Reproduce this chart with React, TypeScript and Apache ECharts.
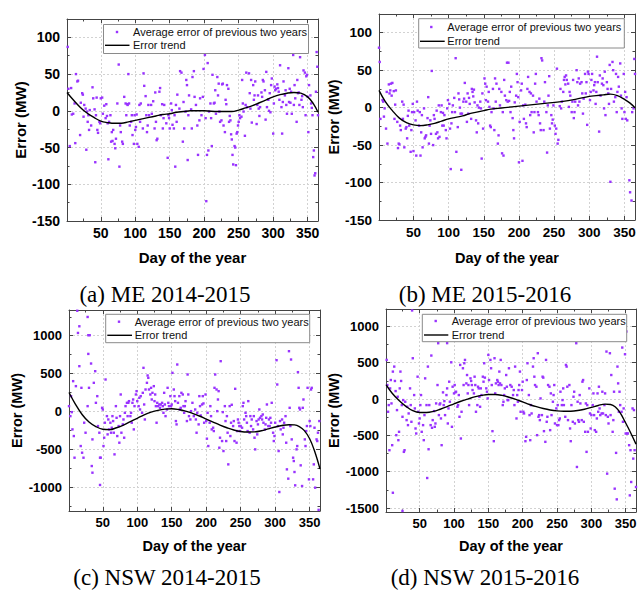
import React, { useEffect, useRef } from "react";
import * as echarts from "echarts";

// ---------------- data (day of year, error in MW) ----------------
const meScatter1415: number[][] = [
[2,87],[3,30],[5,-48],[7,31],[8,-5],[10,-4],[12,10],[13,-44],[14,50],[16,40],[17,41],[20,-33],[21,11],[23,24],[24,22],[25,-8],[26,8],[28,3],[29,-53],[30,-1],[31,-15],[32,-6],[33,-26],[34,1],[36,-20],[38,32],[39,17],[41,2],[42,-70],[43,-6],[44,18],[45,-26],[46,-30],[48,-15],[49,-17],[50,17],[52,18],[53,-4],[55,7],[57,-10],[58,9],[59,-7],[60,-17],[61,-66],[62,-15],[64,-6],[65,-42],[66,-29],[67,-41],[68,-26],[70,-45],[71,-51],[72,-38],[74,10],[76,63],[77,-76],[78,-20],[79,-29],[81,-42],[82,-45],[84,19],[86,10],[87,-6],[88,9],[89,8],[90,50],[91,10],[92,-20],[94,-15],[95,-6],[96,-33],[98,-45],[99,-6],[100,-26],[101,-22],[102,-5],[103,-45],[105,-49],[106,8],[107,-15],[108,10],[111,-24],[112,51],[113,34],[115,20],[116,-6],[117,-29],[118,-20],[119,8],[120,-6],[123,8],[124,-4],[126,13],[128,-24],[129,25],[130,-15],[131,-40],[132,-38],[135,26],[136,31],[137,-6],[139,9],[140,-24],[141,-10],[142,8],[145,-17],[147,-64],[148,-6],[149,-10],[150,-24],[152,10],[153,1],[154,-19],[156,-24],[157,-6],[158,-76],[159,8],[160,-15],[161,22],[164,3],[165,54],[167,52],[169,-42],[170,12],[171,-24],[173,-1],[174,42],[175,35],[176,-67],[177,-6],[178,21],[181,2],[182,-24],[183,46],
[185,54],[186,19],[188,8],[190,-20],[191,-60],[193,-13],[194,17],[196,-6],[198,19],[199,57],[201,76],[202,-10],[203,-123],[204,-60],[205,65],[206,-54],[207,-1],[209,10],[210,-10],[211,-48],[212,49],[214,10],[215,11],[216,28],[217,-4],[219,46],[220,21],[221,37],[222,-1],[223,-15],[225,-13],[226,36],[227,37],[228,-20],[230,-29],[231,15],[232,9],[233,35],[235,30],[236,-15],[237,-7],[238,-13],[239,-32],[240,-39],[241,-60],[242,-73],[244,-48],[245,-50],[246,-74],[247,-31],[248,-29],[249,-20],[250,-15],[251,-6],[252,-10],[254,-8],[255,42],[256,10],[257,-1],[259,-34],[260,8],[261,52],[262,5],[265,51],[266,24],[267,3],[268,42],[269,-16],[271,35],[272,15],[273,21],[274,40],[276,-18],[277,8],[278,21],[279,3],[280,-7],[281,5],[283,25],[284,19],[285,42],[286,40],[288,28],[289,-12],[290,53],[291,5],[293,15],[294,0],[295,24],[296,-2],[297,35],[298,44],[300,-31],[301,10],[302,33],[303,28],[304,30],[306,36],[307,31],[308,26],[309,15],[310,62],[312,5],[313,-31],[314,12],[315,40],[317,21],[318,28],[319,8],[320,-4],[322,58],[323,12],[324,30],[325,11],[326,26],[327,-4],[329,76],[330,8],[331,35],[332,17],[334,-15],[335,42],[336,24],[337,25],[338,8],[339,73],[341,15],[342,20],[343,5],[344,55],[346,52],[347,-6],[348,47],[349,49],[350,19],[351,-29],[352,35],[354,21],[355,10],[356,4],[357,-6],[358,-63],[359,-54],[360,-88],[361,-85],[362,26],[363,80],[364,60],[365,-6]
];
const meTrend1415: number[][] = [
[1,25],[10,15],[20,5],[30,-3],[40,-9],[50,-14],[60,-16],[70,-17],[80,-17],[90,-15],[100,-13],[110,-11],[120,-9],[130,-7],[140,-5],[150,-4],[160,-2],[170,-1],[180,0],[200,0],[220,-1],[240,-1],[250,1],[260,4],[270,7],[280,11],[290,15],[300,19],[310,22],[320,24],[330,25],[340,24],[350,19],[358,10],[365,-2]
];

const meScatter1516: number[][] = [
[1,80],[2,61],[3,-15],[6,10],[7,8],[8,-12],[9,-1],[11,-28],[12,21],[13,-48],[15,31],[16,19],[17,23],[18,32],[19,16],[20,33],[22,22],[23,-15],[24,4],[25,23],[27,-19],[28,-54],[29,-48],[30,-49],[31,-24],[32,-30],[34,8],[35,-15],[36,4],[37,-53],[39,-28],[40,-26],[41,-41],[42,-11],[43,-4],[44,-24],[46,-59],[47,-30],[48,-6],[49,5],[50,-58],[51,-6],[53,-17],[54,-64],[55,8],[56,-4],[58,-24],[59,-6],[60,-64],[61,-33],[62,-10],[63,-53],[65,-1],[66,-41],[67,-39],[68,-37],[70,-14],[71,14],[72,-48],[73,-24],[74,-17],[75,-35],[76,49],[78,-50],[79,-10],[80,-15],[82,-35],[83,-4],[84,-33],[85,-41],[86,3],[87,-39],[89,-6],[90,3],[91,-24],[92,-7],[93,-24],[94,-10],[96,-30],[97,-41],[98,-1],[99,10],[101,5],[102,-28],[103,-82],[104,-21],[105,-6],[106,3],[108,13],[109,-6],[110,66],[111,-59],[113,-26],[114,19],[115,11],[116,0],[117,-8],[118,-83],[119,-8],[121,8],[122,12],[123,33],[125,8],[126,-19],[127,19],[128,-8],[129,13],[130,5],[132,-15],[133,25],[134,21],[135,15],[136,24],[137,7],[139,-17],[140,-33],[141,3],[142,-21],[143,0],[145,8],[146,-1],[147,-68],[148,19],[149,-28],[151,39],[152,32],[153,10],[154,28],[156,8],[157,21],[158,1],[159,-24],[160,-26],[161,-6],[163,25],[164,-1],[165,-30],[166,39],[167,8],[168,32],[170,-48],[171,-37],[172,25],[173,3],[175,21],[176,-61],[177,-6],[178,-64],[179,37],[180,16],[182,10],[183,60],[184,8],
[185,60],[186,9],[187,21],[188,-6],[189,28],[191,-14],[192,-30],[193,-41],[194,7],[196,16],[197,45],[198,34],[199,14],[200,-73],[201,-19],[203,23],[204,32],[205,-71],[206,3],[207,-15],[209,4],[210,-21],[211,-26],[212,25],[213,41],[215,21],[216,-10],[217,19],[218,-6],[220,16],[221,-33],[222,-6],[223,32],[224,45],[225,8],[227,-6],[228,-10],[229,12],[230,-21],[231,-30],[232,66],[233,63],[235,-30],[236,8],[237,34],[239,-6],[240,-60],[241,3],[242,16],[243,42],[244,-28],[246,-10],[247,-21],[248,-16],[249,3],[251,-24],[252,-35],[253,-28],[254,52],[255,-48],[256,-43],[258,2],[259,25],[260,-1],[261,8],[263,21],[264,37],[265,41],[266,31],[267,43],[268,37],[270,32],[271,1],[272,21],[273,16],[275,-6],[276,8],[277,37],[278,-14],[279,-6],[280,8],[282,50],[283,34],[284,3],[285,39],[286,8],[287,32],[289,34],[290,19],[291,-8],[292,12],[294,45],[295,19],[296,34],[297,-23],[298,48],[299,45],[301,10],[302,21],[303,37],[304,45],[306,23],[307,30],[308,34],[309,5],[310,21],[311,68],[312,34],[314,-32],[315,43],[316,16],[318,32],[319,39],[320,30],[321,-1],[322,48],[323,-10],[325,34],[326,25],[327,19],[328,5],[329,57],[330,-99],[331,25],[333,61],[334,50],[335,8],[337,14],[338,45],[339,-6],[340,21],[341,41],[342,28],[344,59],[345,16],[346,-1],[347,-15],[349,45],[350,-6],[351,21],[352,-15],[353,14],[354,-17],[357,-97],[358,-113],[360,-124],[361,-6],[363,-1],[364,65],[365,45]
];
const meTrend1516: number[][] = [
[1,23],[10,8],[20,-4],[30,-14],[40,-20],[50,-23],[60,-24],[70,-23],[80,-21],[90,-18],[100,-15],[110,-13],[120,-11],[130,-8],[140,-6],[150,-4],[160,-2],[170,-1],[180,0],[200,2],[220,4],[240,6],[260,8],[280,11],[300,15],[310,16],[320,17],[330,18],[340,16],[350,11],[358,6],[365,0]
];

const nswScatter1415: number[][] = [
[1,70],[3,-62],[4,202],[5,-9],[6,-237],[7,400],[8,-325],[9,-611],[11,334],[13,1330],[14,1037],[16,1125],[16,598],[18,-457],[19,312],[20,-545],[22,-611],[23,-149],[25,-281],[28,1248],[28,70],[29,1007],[29,760],[30,312],[31,1007],[33,633],[34,-721],[35,-369],[35,-809],[37,378],[39,532],[40,114],[42,202],[43,-193],[45,-281],[46,-611],[46,-971],[47,-611],[49,48],[50,26],[51,-457],[52,-347],[53,-149],[54,422],[56,-62],[57,-303],[58,-106],[59,-237],[61,-149],[62,-281],[63,-215],[64,-62],[65,-127],[66,-281],[67,-567],[69,70],[70,-84],[71,-325],[73,-193],[74,-413],[75,-62],[76,224],[77,-281],[79,-171],[80,-106],[81,-347],[82,-18],[83,70],[85,114],[86,-62],[87,114],[88,136],[90,-62],[91,-18],[92,-149],[93,114],[94,158],[95,-237],[96,70],[98,224],[99,268],[100,136],[102,70],[103,180],[104,26],[105,202],[107,-18],[108,246],[109,576],[110,92],[111,-106],[112,290],[114,378],[115,475],[116,444],[117,290],[119,224],[120,312],[121,158],[122,246],[124,334],[125,136],[126,224],[127,70],[128,-149],[129,114],[130,70],[132,92],[133,48],[134,92],[136,114],[137,70],[138,-18],[139,246],[140,92],[141,-62],[143,26],[144,312],[145,114],[146,70],[148,202],[149,70],[150,92],[151,510],[153,290],[154,202],[155,136],[156,-127],[157,-171],[158,620],[159,114],[161,202],[162,26],[163,48],[164,246],[166,224],[167,70],[168,-18],[169,70],[170,136],[172,-127],[173,488],[174,224],[175,-62],[177,-106],[178,4],[180,114],[182,-62],
[184,26],[185,-106],[186,-281],[187,-18],[189,-171],[190,202],[191,70],[192,-53],[194,92],[195,202],[196,106],[197,-149],[199,224],[200,-127],[201,-360],[202,-18],[203,-457],[205,-149],[206,70],[207,-62],[208,-237],[210,-215],[211,-259],[212,312],[213,488],[215,290],[216,4],[217,158],[218,268],[219,-479],[220,-347],[221,664],[223,-391],[224,-9],[225,-523],[227,70],[228,-127],[229,-391],[230,-62],[231,-281],[232,-699],[234,70],[235,-325],[236,-149],[237,88],[239,-193],[240,-127],[241,-391],[242,299],[244,-413],[245,-259],[246,-106],[247,-149],[248,-193],[249,-259],[250,-193],[252,-215],[253,70],[254,114],[255,-106],[257,-18],[258,-62],[259,-149],[260,-259],[261,136],[263,-281],[264,-62],[265,-193],[266,-106],[268,-237],[269,-62],[270,-347],[271,-501],[273,-127],[274,-303],[275,-171],[276,-106],[277,26],[278,-84],[280,-62],[281,-106],[282,-40],[283,-149],[285,-237],[286,-171],[287,-84],[288,92],[290,-193],[291,-106],[292,-193],[293,-84],[294,-149],[295,114],[297,-281],[298,-391],[299,-325],[300,-149],[302,677],[303,356],[304,-193],[305,-523],[306,-1064],[307,-127],[308,-237],[310,-106],[311,-303],[312,-215],[313,-149],[315,-62],[316,-413],[317,-765],[319,-888],[320,796],[321,48],[322,-193],[323,686],[324,-369],[326,-611],[327,-655],[328,-800],[329,-976],[331,-501],[332,-457],[333,519],[334,312],[335,48],[336,26],[337,-712],[339,-985],[340,48],[341,158],[343,-369],[344,-457],[345,-259],[346,-193],[347,312],[349,-897],[350,-127],[351,-193],[352,290],[353,312],[355,-897],[356,-699],[357,-215],[358,-1007],[360,-369],[361,-391],[362,-281],[363,-1300],[364,-127]
];
const nswTrend1415: number[][] = [
[1,250],[10,100],[20,-40],[30,-140],[40,-200],[50,-235],[60,-240],[70,-215],[80,-180],[90,-135],[100,-90],[110,-45],[120,-10],[130,15],[140,30],[150,35],[160,25],[170,5],[180,-25],[190,-60],[200,-100],[210,-140],[220,-180],[230,-215],[240,-245],[250,-265],[260,-272],[270,-270],[280,-255],[290,-230],[300,-205],[310,-185],[320,-175],[328,-178],[335,-200],[342,-250],[350,-360],[357,-520],[365,-760]
];

const nswScatter1516: number[][] = [
[2,539],[3,193],[4,-175],[5,-83],[6,-704],[7,147],[8,262],[9,-60],[10,-635],[11,378],[11,-1290],[13,447],[14,249],[15,110],[16,-497],[17,-152],[18,32],[19,-566],[20,-451],[21,147],[22,378],[23,249],[24,-83],[25,-244],[25,-1540],[26,-14],[27,-727],[28,-704],[29,-37],[31,-290],[32,-106],[33,-359],[34,-198],[36,147],[37,-83],[38,-313],[39,1220],[40,562],[42,55],[43,-129],[44,-405],[45,-474],[47,308],[48,-175],[49,-336],[50,-267],[51,-83],[52,55],[53,-451],[55,-359],[56,-566],[57,-221],[58,285],[60,-83],[61,-1087],[62,447],[63,-691],[64,-83],[66,-359],[67,599],[68,-396],[69,-290],[71,-166],[72,-382],[73,-336],[74,-60],[76,193],[77,769],[78,-221],[79,-74],[80,-60],[81,-267],[82,-635],[84,92],[85,-83],[86,-28],[87,-221],[89,55],[90,147],[90,770],[91,-336],[92,-129],[93,239],[94,-37],[96,506],[97,-382],[98,170],[100,78],[101,193],[102,92],[103,101],[105,-106],[106,-83],[107,55],[108,-244],[109,470],[110,-543],[111,-175],[113,424],[114,193],[115,493],[116,539],[118,216],[119,331],[120,78],[121,193],[122,-83],[124,285],[125,249],[126,193],[127,124],[129,78],[130,308],[131,193],[132,-175],[134,-83],[135,170],[136,147],[137,32],[138,-106],[139,147],[140,55],[142,308],[143,239],[144,493],[145,295],[147,147],[148,101],[149,9],[150,608],[151,262],[153,539],[154,424],[155,193],[156,-442],[158,-580],[159,562],[160,78],[161,216],[163,262],[164,239],[165,193],[166,378],[167,216],[168,539],[169,193],[171,-83],[172,-37],[173,55],[174,147],[176,331],[177,170],[178,-14],[179,-14],[180,424],[182,193],
[184,170],[186,55],[187,124],[188,-83],[189,447],[191,-267],[192,55],[193,-37],[194,124],[195,193],[196,378],[197,-175],[199,124],[200,239],[201,-175],[202,-198],[204,-580],[205,-520],[206,262],[207,493],[209,55],[210,-221],[211,-566],[212,-83],[213,-198],[215,447],[216,562],[217,308],[218,193],[220,170],[221,-497],[222,631],[223,-244],[224,-221],[225,-290],[226,9],[228,-221],[229,308],[230,295],[231,-442],[233,-589],[234,539],[235,-313],[236,-244],[237,193],[239,170],[240,-428],[241,78],[242,-221],[244,-37],[245,55],[246,193],[247,-336],[249,-129],[250,-359],[251,-83],[252,-359],[253,-290],[254,-267],[255,101],[257,-83],[258,-14],[259,147],[260,-83],[262,-244],[263,470],[264,447],[265,170],[266,-290],[268,193],[269,-405],[270,-580],[271,-83],[273,-313],[274,32],[275,101],[276,-336],[278,769],[279,-935],[280,-37],[281,-290],[282,-313],[283,55],[284,-60],[286,-290],[287,239],[288,262],[289,-313],[291,-451],[292,-60],[293,-727],[294,-83],[295,-451],[297,147],[298,-198],[299,-405],[300,-221],[302,-83],[303,78],[304,-221],[305,-428],[307,-451],[308,-267],[309,78],[310,-175],[311,170],[312,-129],[313,-221],[315,-198],[316,101],[317,-198],[319,-83],[320,78],[321,-221],[322,654],[323,-1027],[324,-244],[325,-336],[327,631],[328,-221],[329,331],[331,-451],[332,-290],[333,101],[334,-1234],[336,-741],[337,-1381],[338,447],[339,216],[340,-175],[341,101],[342,-83],[344,-175],[345,709],[346,-313],[347,-129],[349,617],[350,-474],[351,930],[352,-474],[353,-474],[355,-635],[356,-1326],[357,-704],[358,-1142],[360,-129],[361,-820],[362,-152],[363,-704],[365,-1211]
];
const nswTrend1516: number[][] = [
[1,200],[10,80],[20,-20],[30,-100],[40,-160],[50,-185],[60,-185],[70,-170],[80,-140],[90,-105],[100,-65],[110,-30],[120,0],[130,30],[140,50],[150,62],[160,62],[170,50],[180,25],[190,-5],[200,-40],[210,-75],[220,-105],[230,-130],[240,-150],[250,-163],[260,-168],[270,-167],[280,-158],[290,-140],[300,-115],[310,-88],[320,-70],[328,-75],[335,-110],[342,-190],[350,-330],[357,-460],[365,-620]
];

const SCATTER_NAME = "Average error of previous two years";
const TREND_NAME = "Error trend";
const X_NAME = "Day of the year";
const Y_NAME = "Error (MW)";
const CAPTIONS = ["(a) ME 2014-2015", "(b) ME 2015-2016", "(c) NSW 2014-2015", "(d) NSW 2015-2016"];
const X_RANGE = [1, 365];
const X_STEP = 50;
const Y_STEPS = [50, 50, 500, 500];
const Y_RANGES = [[-150, 125], [-150, 125], [-1315, 1340], [-1555, 1240]];
const SCATTERS = [meScatter1415, meScatter1516, nswScatter1415, nswScatter1516];
const TRENDS = [meTrend1415, meTrend1516, nswTrend1415, nswTrend1516];

// ---------------- layout (pixels) ----------------
const LAYOUTS = [
  { left: 67, top: 19, width: 251, height: 202, fs: 14, nameFs: 15, yGap: 38, xGap: 29,
    lg: { x: 103.5, y: 24.5, w: 205, h: 29, dotX: 117, r1: 32, r2: 45.3, l1: 105, l2: 129.5, tx: 133 }, cap: [165, 294] },
  { left: 379, top: 14, width: 256, height: 206, fs: 13.5, nameFs: 14.5, yGap: 35, xGap: 30,
    lg: { x: 418.7, y: 18.7, w: 205.6, h: 29.3, dotX: 431.3, r1: 27, r2: 41.3, l1: 420, l2: 444.7, tx: 447.3 }, cap: [485, 294] },
  { left: 69, top: 310, width: 251, height: 201, fs: 13, nameFs: 14.5, yGap: 41, xGap: 27,
    lg: { x: 105.7, y: 314.3, w: 204, h: 28.4, dotX: 119, r1: 321.7, r2: 335.3, l1: 107.3, l2: 132, tx: 134.7 }, cap: [167, 577] },
  { left: 386, top: 309, width: 250, height: 203, fs: 13, nameFs: 14.5, yGap: 42, xGap: 26,
    lg: { x: 422.3, y: 314.3, w: 204.4, h: 27.4, dotX: 435.7, r1: 321, r2: 335, l1: 424, l2: 448.3, tx: 451.7 }, cap: [485, 577] },
];

const FONT = "'Liberation Sans', Arial, Helvetica, sans-serif";
const SERIF = "'Liberation Serif', 'Times New Roman', serif";
const PURPLE = "#9933ff";
const AXIS_COLOR = "#444";

function isStep(v: number, step: number) {
  return Math.abs(v / step - Math.round(v / step)) < 1e-6;
}

function buildOption() {
  const grid: any[] = [];
  const xAxis: any[] = [];
  const yAxis: any[] = [];
  const series: any[] = [];
  const graphic: any[] = [];

  LAYOUTS.forEach((L, i) => {
    grid.push({ left: L.left, top: L.top, width: L.width, height: L.height, containLabel: false, outerBoundsMode: "none" });
    const lineStyle = { color: AXIS_COLOR, width: 1 };
    const xBase = {
      type: "value", gridIndex: i, min: X_RANGE[0], max: X_RANGE[1],
      minInterval: X_STEP, maxInterval: X_STEP,
      axisLine: { show: true, onZero: false, lineStyle },
      axisTick: { show: true, inside: true, length: 4, lineStyle },
      minorTick: { show: true, splitNumber: 2, length: 2.5, lineStyle },
    };
    xAxis.push({
      ...xBase, position: "bottom",
      name: X_NAME, nameLocation: "middle", nameGap: L.xGap,
      nameTextStyle: { fontFamily: FONT, fontWeight: "bold", fontSize: L.nameFs, color: "#000" },
      axisLabel: { show: true, margin: 5, fontFamily: FONT, fontWeight: "bold", fontSize: L.fs, color: "#000",
        formatter: (v: number) => (isStep(v, X_STEP) && v >= X_STEP ? String(v) : "") },
      splitLine: { show: true, lineStyle: { color: "#d2d2d2", width: 1, type: [2, 2] } },
    });
    xAxis.push({ ...xBase, position: "top", axisLabel: { show: false }, splitLine: { show: false } });

    const step = Y_STEPS[i];
    const yBase = {
      type: "value", gridIndex: i, min: Y_RANGES[i][0], max: Y_RANGES[i][1],
      minInterval: step, maxInterval: step,
      axisLine: { show: true, onZero: false, lineStyle },
      axisTick: { show: true, inside: true, length: 4, lineStyle },
      minorTick: { show: true, splitNumber: 2, length: 2.5, lineStyle },
    };
    yAxis.push({
      ...yBase, position: "left",
      name: Y_NAME, nameLocation: "middle", nameGap: L.yGap, nameRotate: 90,
      nameTextStyle: { fontFamily: FONT, fontWeight: "bold", fontSize: L.nameFs, color: "#000" },
      axisLabel: { show: true, margin: 7, fontFamily: FONT, fontWeight: "bold", fontSize: L.fs, color: "#000",
        formatter: (v: number) => (isStep(v, step) ? String(v) : "") },
      splitLine: { show: true, lineStyle: { color: "#d2d2d2", width: 1, type: [2, 2] } },
    });
    yAxis.push({ ...yBase, position: "right", axisLabel: { show: false }, splitLine: { show: false } });

    series.push({
      type: "scatter", name: SCATTER_NAME, xAxisIndex: 2 * i, yAxisIndex: 2 * i,
      data: SCATTERS[i], symbol: "rect", symbolSize: 2.4,
      itemStyle: { color: PURPLE, opacity: 1 }, z: 2,
    });
    series.push({
      type: "line", name: TREND_NAME, xAxisIndex: 2 * i, yAxisIndex: 2 * i,
      data: TRENDS[i], smooth: 0.4, symbol: "none", showSymbol: false,
      lineStyle: { color: "#000", width: 1.4 }, z: 3,
    });

    const g = L.lg;
    graphic.push({ type: "rect", z: 100, shape: { x: g.x, y: g.y, width: g.w, height: g.h },
      style: { fill: "#fff", stroke: "#8a8a8a", lineWidth: 1 } });
    graphic.push({ type: "rect", z: 101, shape: { x: g.dotX - 1.2, y: g.r1 - 1.2, width: 2.4, height: 2.4 },
      style: { fill: PURPLE } });
    graphic.push({ type: "line", z: 101, shape: { x1: g.l1, y1: g.r2, x2: g.l2, y2: g.r2 },
      style: { stroke: "#000", lineWidth: 1.4 } });
    graphic.push({ type: "text", z: 101, x: g.tx, y: g.r1,
      style: { text: SCATTER_NAME, fontFamily: FONT, fontSize: 11, fill: "#111", verticalAlign: "middle", align: "left" } });
    graphic.push({ type: "text", z: 101, x: g.tx, y: g.r2,
      style: { text: TREND_NAME, fontFamily: FONT, fontSize: 11, fill: "#111", verticalAlign: "middle", align: "left" } });
    graphic.push({ type: "text", z: 101, x: L.cap[0], y: L.cap[1],
      style: { text: CAPTIONS[i], fontFamily: SERIF, fontSize: 23, fill: "#000", verticalAlign: "middle", align: "center" } });
  });

  return { animation: false, backgroundColor: "#fff", grid, xAxis, yAxis, series, graphic };
}

export default function App() {
  const ref = useRef<HTMLDivElement>(null);
  useEffect(() => {
    if (!ref.current) return;
    const chart = echarts.init(ref.current, null, { renderer: "svg" });
    chart.setOption(buildOption() as any);
    return () => chart.dispose();
  }, []);
  return (
    <div
      ref={ref}
      style={{ position: "fixed", left: 0, top: 0, width: 638, height: 590, background: "#fff" }}
    />
  );
}
